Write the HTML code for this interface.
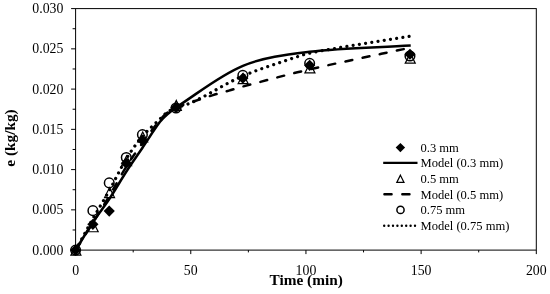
<!DOCTYPE html>
<html lang="en"><head><meta charset="utf-8"><title>e vs Time</title>
<style>html,body{margin:0;padding:0;background:#fff}svg{display:block;filter:grayscale(1)}text{font-family:"Liberation Serif","Times New Roman",serif;fill:#000}</style></head><body>
<svg width="550" height="294" viewBox="0 0 550 294">
<rect x="0" y="0" width="550" height="294" fill="#fff"/>
<rect x="75.6" y="8.6" width="460.70" height="241.50" fill="none" stroke="#000" stroke-width="1"/>
<path d="M71.10 250.10H75.60M72.60 229.97H75.60M71.10 209.85H75.60M72.60 189.72H75.60M71.10 169.60H75.60M72.60 149.47H75.60M71.10 129.35H75.60M72.60 109.22H75.60M71.10 89.10H75.60M72.60 68.97H75.60M71.10 48.85H75.60M72.60 28.72H75.60M71.10 8.60H75.60M75.60 250.10V254.10M133.19 250.10V252.40M190.77 250.10V254.10M248.36 250.10V252.40M305.95 250.10V254.10M363.54 250.10V252.40M421.12 250.10V254.10M478.71 250.10V252.40M536.30 250.10V254.10" stroke="#000" stroke-width="1" fill="none"/>
<text x="63.4" y="254.70" font-size="13.8" text-anchor="end">0.000</text>
<text x="63.4" y="214.45" font-size="13.8" text-anchor="end">0.005</text>
<text x="63.4" y="174.20" font-size="13.8" text-anchor="end">0.010</text>
<text x="63.4" y="133.95" font-size="13.8" text-anchor="end">0.015</text>
<text x="63.4" y="93.70" font-size="13.8" text-anchor="end">0.020</text>
<text x="63.4" y="53.45" font-size="13.8" text-anchor="end">0.025</text>
<text x="63.4" y="13.20" font-size="13.8" text-anchor="end">0.030</text>
<text x="75.60" y="274.8" font-size="13.8" text-anchor="middle">0</text>
<text x="190.77" y="274.8" font-size="13.8" text-anchor="middle">50</text>
<text x="305.95" y="274.8" font-size="13.8" text-anchor="middle">100</text>
<text x="421.12" y="274.8" font-size="13.8" text-anchor="middle">150</text>
<text x="536.30" y="274.8" font-size="13.8" text-anchor="middle">200</text>
<text x="306.2" y="285.3" font-size="15.3" font-weight="bold" text-anchor="middle">Time (min)</text>
<text transform="translate(15.0 138.0) rotate(-90)" font-size="15.3" font-weight="bold" text-anchor="middle">e (kg/kg)</text>
<path d="M75.70 250.00C81.47 240.83 87.28 231.69 93.00 222.50C98.48 213.69 103.99 204.91 109.30 196.00C115.12 186.24 120.37 176.13 126.40 166.50C131.44 158.46 136.95 150.70 142.50 143.00C148.15 135.17 153.85 127.32 160.00 119.90C162.35 117.06 165.10 114.45 168.00 112.20C170.46 110.29 173.21 108.60 176.10 107.40C182.21 104.86 188.69 103.10 195.00 101.00C200.99 99.00 206.96 96.95 213.00 95.10C218.30 93.48 223.68 92.13 229.00 90.60C233.64 89.26 238.23 87.73 242.90 86.50C265.10 80.66 287.24 74.58 309.60 69.40C343.18 61.62 377.00 54.87 410.70 47.60" fill="none" stroke="#000" stroke-width="2.5" stroke-linecap="round" stroke-dasharray="7.00 10.50" stroke-dashoffset="16.20"/>
<path d="M75.70 250.00C81.47 239.50 87.11 228.93 93.00 218.50C98.31 209.10 104.03 199.93 109.30 190.50C115.17 179.99 120.13 168.94 126.40 158.70C131.19 150.88 136.58 143.29 142.50 136.30C147.78 130.06 154.11 124.71 160.00 119.00C162.61 116.47 165.05 113.64 168.00 111.60C170.41 109.94 173.33 108.96 176.10 107.90C180.66 106.16 185.49 105.06 190.00 103.20C194.62 101.29 199.05 98.89 203.50 96.60C207.28 94.66 210.97 92.54 214.70 90.50C218.40 88.47 222.07 86.38 225.80 84.40C229.54 82.41 233.25 80.36 237.10 78.60C242.82 75.99 248.62 73.52 254.50 71.30C262.25 68.38 270.15 65.85 278.00 63.20C286.12 60.45 294.24 57.70 302.40 55.10C304.40 54.46 306.46 54.01 308.50 53.50C310.63 52.97 312.75 52.39 314.90 52.00C327.51 49.69 340.15 47.49 352.80 45.40C372.02 42.22 391.27 39.27 410.50 36.20" fill="none" stroke="#000" stroke-width="3.2" stroke-linecap="round" stroke-dasharray="0.01 6.29" stroke-dashoffset="0.02"/>
<path d="M75.70 250.00C81.47 240.67 86.97 231.16 93.00 222.00C98.17 214.16 104.12 206.83 109.30 199.00C115.25 190.00 120.54 180.56 126.40 171.50C131.60 163.46 137.14 155.63 142.50 147.70C148.34 139.07 153.76 130.10 160.00 121.80C162.26 118.80 165.19 116.31 168.00 113.80C170.56 111.51 173.20 109.26 176.10 107.40C198.17 93.26 219.05 75.73 242.90 65.80C263.55 57.20 287.10 54.52 309.60 51.80C343.04 47.75 377.00 47.60 410.70 45.50" fill="none" stroke="#000" stroke-width="2.5"/>
<path d="M75.60 244.50L81.20 250.10L75.60 255.70L70.00 250.10Z" fill="#000"/>
<path d="M92.88 218.74L98.48 224.34L92.88 229.94L87.28 224.34Z" fill="#000"/>
<path d="M109.23 205.46L114.83 211.06L109.23 216.66L103.63 211.06Z" fill="#000"/>
<path d="M126.28 157.56L131.88 163.16L126.28 168.76L120.68 163.16Z" fill="#000"/>
<path d="M142.40 134.70L148.00 140.30L142.40 145.90L136.80 140.30Z" fill="#000"/>
<path d="M176.03 102.01L181.63 107.61L176.03 113.21L170.43 107.61Z" fill="#000"/>
<path d="M242.83 72.63L248.43 78.23L242.83 83.83L237.23 78.23Z" fill="#000"/>
<path d="M309.64 59.75L315.24 65.35L309.64 70.95L304.04 65.35Z" fill="#000"/>
<path d="M409.95 48.64L415.55 54.24L409.95 59.84L404.35 54.24Z" fill="#000"/>
<path d="M75.90 245.10L80.90 255.10L70.90 255.10Z" fill="none" stroke="#000" stroke-width="1.2"/>
<path d="M93.18 221.75L98.18 231.75L88.18 231.75Z" fill="none" stroke="#000" stroke-width="1.2"/>
<path d="M109.53 187.54L114.53 197.54L104.53 197.54Z" fill="none" stroke="#000" stroke-width="1.2"/>
<path d="M126.58 155.75L131.58 165.75L121.58 165.75Z" fill="none" stroke="#000" stroke-width="1.2"/>
<path d="M142.70 132.00L147.70 142.00L137.70 142.00Z" fill="none" stroke="#000" stroke-width="1.2"/>
<path d="M176.33 100.44L181.33 110.44L171.33 110.44Z" fill="none" stroke="#000" stroke-width="1.2"/>
<path d="M243.13 73.63L248.13 83.63L238.13 83.63Z" fill="none" stroke="#000" stroke-width="1.2"/>
<path d="M309.94 62.93L314.94 72.93L304.94 72.93Z" fill="none" stroke="#000" stroke-width="1.2"/>
<path d="M410.25 53.11L415.25 63.11L405.25 63.11Z" fill="none" stroke="#000" stroke-width="1.2"/>
<circle cx="75.60" cy="250.10" r="4.8" fill="none" stroke="#000" stroke-width="1.5"/>
<circle cx="92.88" cy="210.66" r="4.8" fill="none" stroke="#000" stroke-width="1.5"/>
<circle cx="109.23" cy="182.88" r="4.8" fill="none" stroke="#000" stroke-width="1.5"/>
<circle cx="126.28" cy="157.52" r="4.8" fill="none" stroke="#000" stroke-width="1.5"/>
<circle cx="142.40" cy="134.66" r="4.8" fill="none" stroke="#000" stroke-width="1.5"/>
<circle cx="176.03" cy="108.02" r="4.8" fill="none" stroke="#000" stroke-width="1.5"/>
<circle cx="242.83" cy="75.41" r="4.8" fill="none" stroke="#000" stroke-width="1.5"/>
<circle cx="309.64" cy="63.34" r="4.8" fill="none" stroke="#000" stroke-width="1.5"/>
<circle cx="409.95" cy="56.01" r="4.8" fill="none" stroke="#000" stroke-width="1.5"/>
<text x="420.5" y="151.60" font-size="12.55">0.3 mm</text>
<text x="420.5" y="167.30" font-size="12.55">Model (0.3 mm)</text>
<text x="420.5" y="183.00" font-size="12.55">0.5 mm</text>
<text x="420.5" y="198.70" font-size="12.55">Model (0.5 mm)</text>
<text x="420.5" y="214.40" font-size="12.55">0.75 mm</text>
<text x="420.5" y="230.10" font-size="12.55">Model (0.75 mm)</text>
<path d="M400.40 142.90L405.10 147.60L400.40 152.30L395.70 147.60Z" fill="#000"/>
<path d="M383.2 162.90H417.5" stroke="#000" stroke-width="2.4" fill="none"/>
<path d="M400.40 175.20L404.00 182.40L396.80 182.40Z" fill="none" stroke="#000" stroke-width="1.2"/>
<path d="M384.4 194.30H418" stroke="#000" stroke-width="2.4" stroke-linecap="round" stroke-dasharray="7.2 10.7" fill="none"/>
<circle cx="400.50" cy="209.90" r="3.6" fill="none" stroke="#000" stroke-width="1.5"/>
<path d="M384.2 225.70H416" stroke="#000" stroke-width="2.4" stroke-linecap="round" stroke-dasharray="0.01 4.39" fill="none"/>
</svg></body></html>
